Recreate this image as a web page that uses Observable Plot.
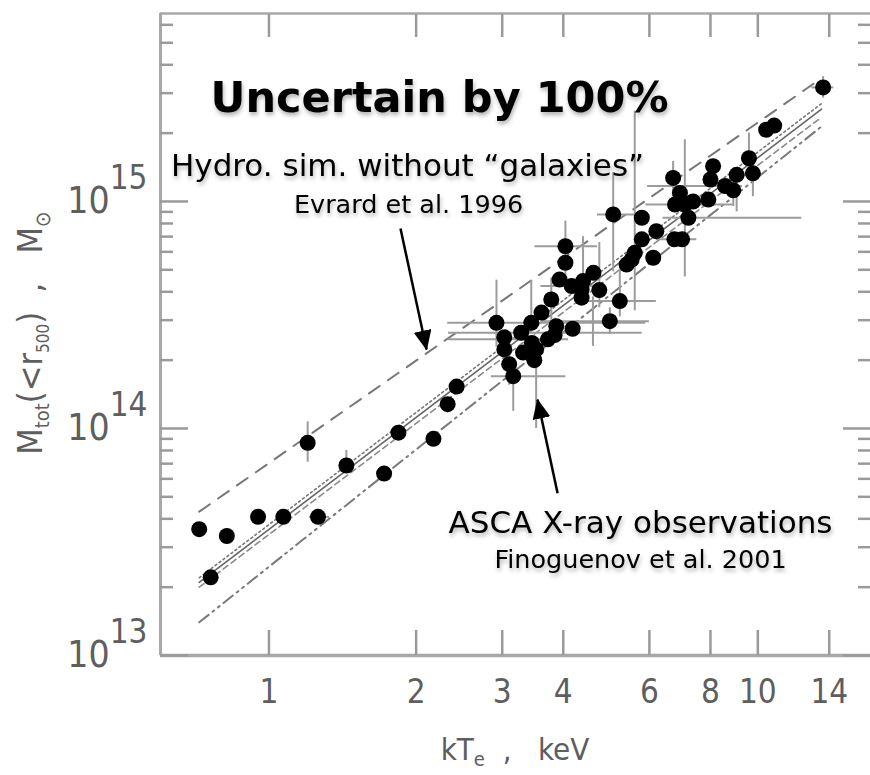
<!DOCTYPE html>
<html><head><meta charset="utf-8">
<script src="https://cdn.jsdelivr.net/npm/d3@7"></script>
<script src="https://cdn.jsdelivr.net/npm/@observablehq/plot@0.6"></script>
<style>
body{margin:0;background:#fff;}
#chart svg{display:block;}
</style></head><body><div id="chart"></div>
<script>
// ---------- axes ----------
const xDomain = [0.6, 17];
const yDomain = [1e13, 6.73e15];
const xTicks = [1, 2, 3, 4, 6, 8, 10, 14];
const xTickLabels = ["1", "2", "3", "4", "6", "8", "10", "14"];
const yMajor = [1e13, 1e14, 1e15];
const yExp = ["13", "14", "15"];
const yMinor = [2e13,3e13,4e13,5e13,6e13,7e13,8e13,9e13,
                2e14,3e14,4e14,5e14,6e14,7e14,8e14,9e14,
                2e15,3e15,4e15,5e15,6e15];

// ---------- cluster points (kT [keV], M_tot [Msun]) ----------
const pointT = [0.72,0.76,0.82,0.95,1.07,1.20,1.26,1.44,1.72,1.84,2.17,2.32,2.42,
  2.92,3.03,3.10,3.16,3.28,3.31,3.44,3.52,3.61,3.72,3.78,3.87,4.18,4.98,5.22,4.36,
  3.03,3.45,3.84,3.49,
  4.04,4.04,3.93,4.16,4.39,4.61,4.74,4.36,
  5.39,5.52,5.60,5.79,6.11,6.20,5.79,5.06,
  6.71,6.93,6.77,7.09,7.37,7.21,6.75,7.0,7.92,8.1,8.0,8.57,8.91,9.05,9.59,9.77,10.4,10.8,13.6];
const pointM = [3.6e13,2.21e13,3.36e13,4.08e13,4.08e13,8.65e13,4.08e13,6.87e13,6.33e13,9.58e13,9.0e13,1.28e14,1.53e14,
  2.92e14,2.23e14,1.92e14,1.70e14,2.64e14,2.16e14,2.92e14,2.23e14,3.24e14,2.47e14,3.70e14,2.82e14,2.75e14,2.97e14,3.64e14,4.09e14,
  2.52e14,2.38e14,2.58e14,2.0e14,
  6.35e14,5.37e14,4.53e14,4.24e14,4.46e14,4.85e14,4.07e14,3.77e14,
  5.27e14,5.55e14,5.94e14,6.81e14,5.65e14,7.4e14,8.48e14,8.77e14,
  1.27e15,1.09e15,9.7e14,9.7e14,1.0e15,8.48e14,6.81e14,6.81e14,1.02e15,1.43e15,1.25e15,1.17e15,1.12e15,1.31e15,1.55e15,1.33e15,2.07e15,2.16e15,3.18e15];

// vertical error bars
const vbarT  = [1.20, 1.44, 2.92, 3.10, 3.16, 3.44, 3.52, 3.78, 4.04, 4.39, 4.6, 4.74, 4.98, 5.22, 5.06, 5.60, 7.09, 6.71, 8.91, 9.05, 9.59, 9.77, 13.6];
const vbarLo = [7.1e13,6.4e13,2.28e14,1.55e14,1.19e14,2.6e14,1.0e14,3.0e14,4.2e14,3.6e14,2.3e14,3.4e14,2.6e14,3.1e14,4.9e14,3.3e14,4.65e14,1.05e15,9.5e14,9.0e14,1.3e15,1.05e15,2.85e15];
const vbarHi = [1.07e14,8.0e13,4.5e14,2.6e14,2.0e14,4.5e14,2.3e14,4.6e14,8.2e14,7.0e14,3.8e14,6.6e14,3.4e14,5.0e14,1.34e15,2.5e15,1.87e15,1.5e15,1.3e15,1.4e15,2.0e15,1.65e15,3.55e15];
// horizontal error bars
const hbarM  = [4.08e13, 2.92e14, 2.64e14, 2.47e14, 1.70e14, 2.97e14, 6.35e14, 4.24e14, 3.64e14, 8.77e14, 8.48e14, 9.7e14, 6.81e14, 1.17e15, 3.18e15];
const hbarLo = [1.21, 2.32, 2.33, 2.33, 2.85, 3.6, 3.5, 3.6, 4.5, 4.7, 6.4, 5.9, 6.2, 5.95, 12.9];
const hbarHi = [1.33, 5.9, 5.8, 4.1, 4.05, 6.0, 4.7, 4.8, 6.2, 5.6, 12.3, 8.9, 7.5, 9.3, 14.3];

// ---------- relation lines (end points) ----------
const lineEvrardT = [0.72, 13.0],  lineEvrardM = [4.3e13, 3.3e15];   // dashed, hydro sim
const lineSolidT  = [0.72, 13.5],  lineSolidM  = [2.1e13, 2.55e15];
const lineDotT    = [0.72, 13.5],  lineDotM    = [2.2e13, 2.7e15];
const lineDashT   = [0.72, 13.5],  lineDashM   = [2.0e13, 2.35e15];
const lineDdotT   = [0.72, 13.5],  lineDdotM   = [1.4e13, 2.14e15];

// ---------- annotations ----------
const titleText = ["Uncertain by 100%"], titleT = [2.233], titleM = [2.47e15];
const bigText = ["Hydro. sim. without “galaxies”", "ASCA X-ray observations"];
const bigT = [1.921, 5.755], bigM = [1.30e15, 3.45e13];
const smallText = ["Evrard et al. 1996", "Finoguenov et al. 2001"];
const smallT = [1.930, 5.755], smallM = [8.94e14, 2.42e13];
const arrowT1 = [1.858, 3.894], arrowM1 = [7.6e14, 5.18e13];
const arrowT2 = [2.101, 3.543], arrowM2 = [2.23e14, 1.34e14];

// ---------- build tables ----------
const points = pointT.map((t, i) => ({T: t, M: pointM[i]}));
const vbars = vbarT.map((t, i) => ({T: t, lo: vbarLo[i], hi: vbarHi[i]}));
const hbars = hbarM.map((m, i) => ({M: m, lo: hbarLo[i], hi: hbarHi[i]}));
const mk = (T, M) => T.map((t, i) => ({T: t, M: M[i]}));
const annTitle = titleText.map((s, i) => ({s, T: titleT[i], M: titleM[i]}));
const annBig = bigText.map((s, i) => ({s, T: bigT[i], M: bigM[i]}));
const annSmall = smallText.map((s, i) => ({s, T: smallT[i], M: smallM[i]}));
const arrows = arrowT1.map((t, i) => ({T1: t, M1: arrowM1[i], T2: arrowT2[i], M2: arrowM2[i]}));

const axisFont = "'Liberation Sans Narrow', 'DejaVu Sans Condensed', 'Arial Narrow', sans-serif";
const annFont = "'DejaVu Sans', 'Lucida Grande', sans-serif";
const tickColor = "#9a9a9a";
const textColor = "#5e5e5e";

const chart = Plot.plot({
  width: 870, height: 775,
  marginLeft: 160, marginRight: 0, marginTop: 13, marginBottom: 120,
  x: {type: "log", domain: xDomain, axis: null},
  y: {type: "log", domain: yDomain, axis: null},
  style: {background: "white", fontFamily: axisFont, overflow: "visible"},
  marks: [
    // frame
    Plot.ruleX([xDomain[0]], {stroke: "#a8a8a8", strokeWidth: 3}),
    Plot.ruleY([yDomain[0]], {stroke: "#a8a8a8", strokeWidth: 3.5}),
    Plot.ruleY([yDomain[1]], {stroke: "#a8a8a8", strokeWidth: 2.5}),
    // ticks (inward)
    Plot.axisY(yMajor, {anchor: "left", tickSize: -28, tickFormat: () => "", stroke: tickColor, strokeWidth: 2.5, label: null}),
    Plot.axisY(yMinor, {anchor: "left", tickSize: -13, tickFormat: () => "", stroke: tickColor, strokeWidth: 2.5, label: null}),
    Plot.axisY(yMajor, {anchor: "right", tickSize: -28, tickFormat: () => "", stroke: tickColor, strokeWidth: 2.5, label: null}),
    Plot.axisY(yMinor, {anchor: "right", tickSize: -13, tickFormat: () => "", stroke: tickColor, strokeWidth: 2.5, label: null}),
    Plot.axisX(xTicks, {anchor: "bottom", tickSize: -25, tickFormat: () => "", stroke: tickColor, strokeWidth: 2.5, label: null}),
    Plot.axisX(xTicks, {anchor: "top", tickSize: -23, tickFormat: () => "", stroke: tickColor, strokeWidth: 2.5, label: null}),
    // tick labels
    Plot.text(xTicks, {x: d => d, text: (d, i) => xTickLabels[i], frameAnchor: "bottom", dy: 47,
      fontSize: 33, fill: textColor, fontFamily: axisFont}),
    Plot.text(yMajor, {y: d => d, text: () => "10", frameAnchor: "left", dx: -13, textAnchor: "end",
      fontSize: 37, fill: textColor, fontFamily: axisFont, ariaLabel: () => "ylabels"}),
    // relation lines
    Plot.line(mk(lineEvrardT, lineEvrardM), {x: "T", y: "M", stroke: "#777", strokeWidth: 2, strokeDasharray: "13,10"}),
    Plot.line(mk(lineDdotT, lineDdotM), {x: "T", y: "M", stroke: "#7a7a7a", strokeWidth: 2, strokeDasharray: "12,5,2,5,2,5"}),
    Plot.line(mk(lineDashT, lineDashM), {x: "T", y: "M", stroke: "#8a8a8a", strokeWidth: 1.6, strokeDasharray: "6,4"}),
    Plot.line(mk(lineDotT, lineDotM), {x: "T", y: "M", stroke: "#777", strokeWidth: 1.6, strokeDasharray: "2,3"}),
    Plot.line(mk(lineSolidT, lineSolidM), {x: "T", y: "M", stroke: "#666", strokeWidth: 1.6}),
    // error bars
    Plot.ruleX(vbars, {x: "T", y1: "lo", y2: "hi", stroke: "#9c9c9c", strokeWidth: 2}),
    Plot.ruleY(hbars, {y: "M", x1: "lo", x2: "hi", stroke: "#9c9c9c", strokeWidth: 2}),
    // points
    Plot.dot(points, {x: "T", y: "M", r: 8, fill: "black", stroke: "none"}),
    // annotations
    Plot.text(annTitle, {x: "T", y: "M", text: "s", fontSize: 43, fontWeight: "bold", fontFamily: annFont,
      fill: "black", textAnchor: "middle", lineAnchor: "bottom", ariaLabel: () => "annot"}),
    Plot.text(annBig, {x: "T", y: "M", text: "s", fontSize: 31, fontFamily: annFont, letterSpacing: "0.6px",
      fill: "black", textAnchor: "middle", lineAnchor: "bottom", ariaLabel: () => "annot"}),
    Plot.text(annSmall, {x: "T", y: "M", text: "s", fontSize: 25.5, fontFamily: annFont, letterSpacing: "0.6px",
      fill: "black", textAnchor: "middle", lineAnchor: "bottom", ariaLabel: () => "annot"}),
    Plot.link(arrows, {x1: "T1", y1: "M1", x2: "T2", y2: "M2", stroke: "black", strokeWidth: 2.5, ariaLabel: () => "arrows"})
  ]
});

document.getElementById("chart").appendChild(chart);

// ---------- post-processing: superscripts, titles, arrowheads, shadows ----------
function pick(label, tag, fallbackGroup) {
  const out = [];
  chart.querySelectorAll(`[aria-label="${label}"]`).forEach(el => {
    if (el.tagName.toLowerCase() === tag) out.push(el);
    else el.querySelectorAll(tag).forEach(e => out.push(e));
  });
  if (!out.length && fallbackGroup) {
    chart.querySelectorAll(`g[aria-label="${fallbackGroup}"] ${tag}`).forEach(e => out.push(e));
  }
  return Array.from(new Set(out));
}

const svg = d3.select(chart);
const defs = svg.insert("defs", ":first-child");
defs.append("filter").attr("id", "shadow").attr("x", "-10%").attr("y", "-40%").attr("width", "120%").attr("height", "180%")
  .append("feDropShadow").attr("dx", 1).attr("dy", 3).attr("stdDeviation", 2)
  .attr("flood-color", "#000").attr("flood-opacity", 0.3);
defs.append("marker").attr("id", "ahead").attr("markerUnits", "userSpaceOnUse")
  .attr("viewBox", "0 0 20 18").attr("refX", 19).attr("refY", 9)
  .attr("markerWidth", 20).attr("markerHeight", 18).attr("orient", "auto")
  .append("path").attr("d", "M0,0L20,9L0,18Z").attr("fill", "black");

pick("arrows", "path", "link").forEach(p => p.setAttribute("marker-end", "url(#ahead)"));
pick("annot", "text").forEach(t => t.setAttribute("filter", "url(#shadow)"));

let ylab = pick("ylabels", "text");
if (!ylab.length) ylab = Array.from(chart.querySelectorAll("text")).filter(t => t.textContent === "10" && t.getAttribute("text-anchor") !== "middle");
ylab.forEach((el, i) => {
  const t = d3.select(el);
  t.text("10");
  t.append("tspan").attr("dy", -24).attr("font-size", 33).text(yExp[i]);
});

// x-axis title
const xt = svg.append("text").attr("transform", "translate(515,760)")
  .attr("text-anchor", "middle").attr("font-family", axisFont).attr("font-size", 31).attr("fill", textColor)
  .attr("xml:space", "preserve");
xt.append("tspan").text("kT");
xt.append("tspan").attr("font-size", 20).attr("dy", 6).text("e");
xt.append("tspan").attr("dy", -6).text("  ,   keV");

// y-axis title
const yt = svg.append("text").attr("transform", "translate(42,333) rotate(-90)")
  .attr("text-anchor", "middle").attr("font-family", axisFont).attr("font-size", 34).attr("fill", textColor)
  .attr("xml:space", "preserve");
yt.append("tspan").text("M");
yt.append("tspan").attr("font-size", 20).attr("dy", 7).text("tot");
yt.append("tspan").attr("dy", -7).text("(<r");
yt.append("tspan").attr("font-size", 17).attr("dy", 7).text("500");
yt.append("tspan").attr("dy", -7).text(")  ,   M");
yt.append("tspan").attr("font-size", 21).attr("dy", 8).text("⊙");
</script>
</body></html>
